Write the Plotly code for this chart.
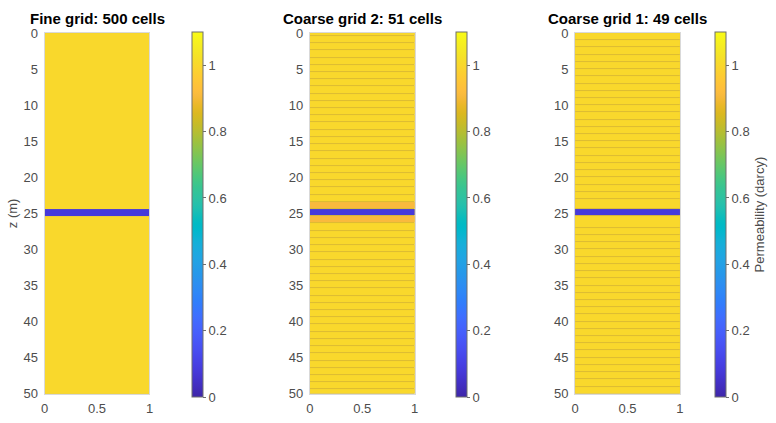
import plotly.graph_objects as go

W, H = 776, 423

# ---- data ----
titles = ["Fine grid: 500 cells", "Coarse grid 2: 51 cells", "Coarse grid 1: 49 cells"]

# fine grid (500 cells of 0.1 m), drawn as uniform segments
fine_edges = [0, 24.4, 25.4, 50]
fine_perm = [1.0, 0.08, 1.0]

# coarse grid 2: 51 cells
coarse2_edges = [0, 0.4, 1.4, 2.4, 3.4, 4.4, 5.4, 6.4, 7.4, 8.4, 9.4, 10.4, 11.4, 12.4, 13.4, 14.4,
                 15.4, 16.4, 17.4, 18.4, 19.4, 20.4, 21.4, 22.4, 23.4, 24.4, 25.4, 26.4, 27.4, 28.4,
                 29.4, 30.4, 31.4, 32.4, 33.4, 34.4, 35.4, 36.4, 37.4, 38.4, 39.4, 40.4, 41.4, 42.4,
                 43.4, 44.4, 45.4, 46.4, 47.4, 48.4, 49.4, 50]
coarse2_perm = [1.0] * 24 + [0.91, 0.08, 0.91] + [1.0] * 24

# coarse grid 1: 49 cells
coarse1_edges = [0, 1, 2, 3, 4, 5, 6, 7, 8, 9, 10, 11, 12, 13, 14, 15, 16, 17, 18, 19, 20, 21, 22, 23,
                 24.4, 25.4, 27, 28, 29, 30, 31, 32, 33, 34, 35, 36, 37, 38, 39, 40, 41, 42, 43, 44,
                 45, 46, 47, 48, 49, 50]
coarse1_perm = [1.0] * 24 + [0.08] + [1.0] * 24

x_edges = [0, 1]
y_ticks = [0, 5, 10, 15, 20, 25, 30, 35, 40, 45, 50]
x_ticks = [0, 0.5, 1]
x_labels = ["0", "0.5", "1"]
cb_ticks = [0, 0.2, 0.4, 0.6, 0.8, 1]
cb_labels = ["0", "0.2", "0.4", "0.6", "0.8", "1"]
cmin, cmax = 0, 1.1

parula = [
    (0.2422, 0.1504, 0.6603), (0.2504, 0.1650, 0.7076), (0.2578, 0.1818, 0.7511), (0.2647, 0.1978, 0.7952),
    (0.2706, 0.2147, 0.8364), (0.2751, 0.2342, 0.8710), (0.2783, 0.2559, 0.8991), (0.2803, 0.2782, 0.9221),
    (0.2813, 0.3006, 0.9414), (0.2810, 0.3228, 0.9579), (0.2795, 0.3447, 0.9717), (0.2760, 0.3667, 0.9829),
    (0.2699, 0.3892, 0.9906), (0.2602, 0.4123, 0.9952), (0.2440, 0.4358, 0.9988), (0.2206, 0.4603, 0.9973),
    (0.1963, 0.4847, 0.9892), (0.1834, 0.5074, 0.9798), (0.1786, 0.5289, 0.9682), (0.1764, 0.5499, 0.9520),
    (0.1687, 0.5703, 0.9359), (0.1540, 0.5902, 0.9218), (0.1460, 0.6091, 0.9079), (0.1380, 0.6276, 0.8973),
    (0.1248, 0.6459, 0.8883), (0.1113, 0.6635, 0.8763), (0.0952, 0.6798, 0.8598), (0.0689, 0.6948, 0.8394),
    (0.0297, 0.7082, 0.8163), (0.0036, 0.7197, 0.7917), (0.0067, 0.7289, 0.7660), (0.0433, 0.7371, 0.7371),
    (0.0964, 0.7444, 0.7077), (0.1408, 0.7511, 0.6769), (0.1717, 0.7574, 0.6452), (0.1938, 0.7640, 0.6116),
    (0.2161, 0.7700, 0.5760), (0.2470, 0.7752, 0.5377), (0.2906, 0.7789, 0.4959), (0.3406, 0.7805, 0.4518),
    (0.3909, 0.7801, 0.4065), (0.4456, 0.7753, 0.3638), (0.5044, 0.7705, 0.3239), (0.5616, 0.7642, 0.2849),
    (0.6174, 0.7574, 0.2476), (0.6720, 0.7497, 0.2162), (0.7242, 0.7415, 0.1867), (0.7738, 0.7345, 0.1605),
    (0.8203, 0.7280, 0.1356), (0.8634, 0.7233, 0.1249), (0.9035, 0.7211, 0.1464), (0.9393, 0.7221, 0.1851),
    (0.9728, 0.7296, 0.2394), (0.9956, 0.7434, 0.2371), (0.9970, 0.7659, 0.2199), (0.9952, 0.7893, 0.2028),
    (0.9892, 0.8137, 0.1886), (0.9786, 0.8386, 0.1766), (0.9676, 0.8639, 0.1643), (0.9610, 0.8890, 0.1537),
    (0.9597, 0.9135, 0.1423), (0.9628, 0.9373, 0.1265), (0.9691, 0.9606, 0.1064), (0.9769, 0.9839, 0.0805),
]
n = len(parula)
colorscale = [[i / (n - 1), "rgb(%d,%d,%d)" % tuple(round(c * 255) for c in p)] for i, p in enumerate(parula)]

FONT = "Liberation Sans, Arial, sans-serif"
TICKC = "#4d4d4d"
NOTICK = "rgba(0,0,0,0)"

# layout in pixels
ax_x = [(41, 147), (309, 415), (577, 683)]
cb_x = [190, 457, 718]
y_top, y_bot = 27, 401

grids = [(fine_edges, fine_perm, 0), (coarse2_edges, coarse2_perm, 1), (coarse1_edges, coarse1_perm, 1)]

fig = go.Figure()
for i, ((edges, perm, gap), (x0, x1), cbx) in enumerate(zip(grids, ax_x, cb_x)):
    k = "" if i == 0 else str(i + 1)
    cb = dict(
        x=cbx / W, xanchor="left", y=1 - 26 / H, yanchor="top",
        len=(404 - 26) / H, lenmode="fraction", thickness=11, thicknessmode="pixels",
        outlinecolor="#6e6e6e", outlinewidth=1,
        tickvals=cb_ticks, ticktext=cb_labels,
        ticks="outside", ticklen=3, tickcolor="#6e6e6e",
        tickfont=dict(family=FONT, size=13, color=TICKC), xpad=0, ypad=0,
    )
    if i == 2:
        cb["title"] = dict(text="Permeability (darcy)", side="right",
                           font=dict(family=FONT, size=13, color=TICKC))
    fig.add_trace(go.Heatmap(
        x=x_edges, y=edges, z=[[v] for v in perm],
        zmin=cmin, zmax=cmax, colorscale=colorscale, colorbar=cb,
        ygap=gap, xaxis="x" + k, yaxis="y" + k, hoverinfo="skip",
    ))
    fig.layout["xaxis" + k] = dict(
        domain=[x0 / W, x1 / W], range=[0, 1], anchor="y" + k,
        tickvals=x_ticks, ticktext=x_labels, ticks="outside", ticklen=3, tickcolor=NOTICK,
        showgrid=False, zeroline=False,
        showline=True, linecolor="#d9d9d9", mirror=True,
        tickfont=dict(family=FONT, size=13, color=TICKC),
    )
    fig.layout["yaxis" + k] = dict(
        domain=[1 - y_bot / H, 1 - y_top / H], range=[50, 0], anchor="x" + k,
        tickvals=y_ticks, ticks="outside", ticklen=3, tickcolor=NOTICK,
        showgrid=False, zeroline=False,
        showline=True, linecolor="#d9d9d9", mirror=True,
        tickfont=dict(family=FONT, size=13, color=TICKC),
    )
    fig.add_annotation(
        x=(x0 + x1) / 2 / W, y=1 - 12 / H, xref="paper", yref="paper",
        text="<b>%s</b>" % titles[i], showarrow=False,
        font=dict(family=FONT, size=15, color="black"), xanchor="center", yanchor="middle",
    )

fig.layout.yaxis.title = dict(text="z (m)", font=dict(family=FONT, size=13, color=TICKC), standoff=2)

fig.update_layout(
    width=W, height=H, margin=dict(l=0, r=0, t=0, b=0),
    paper_bgcolor="white", plot_bgcolor="rgb(220,188,52)", showlegend=False,
)

fig.write_html("out.html")
